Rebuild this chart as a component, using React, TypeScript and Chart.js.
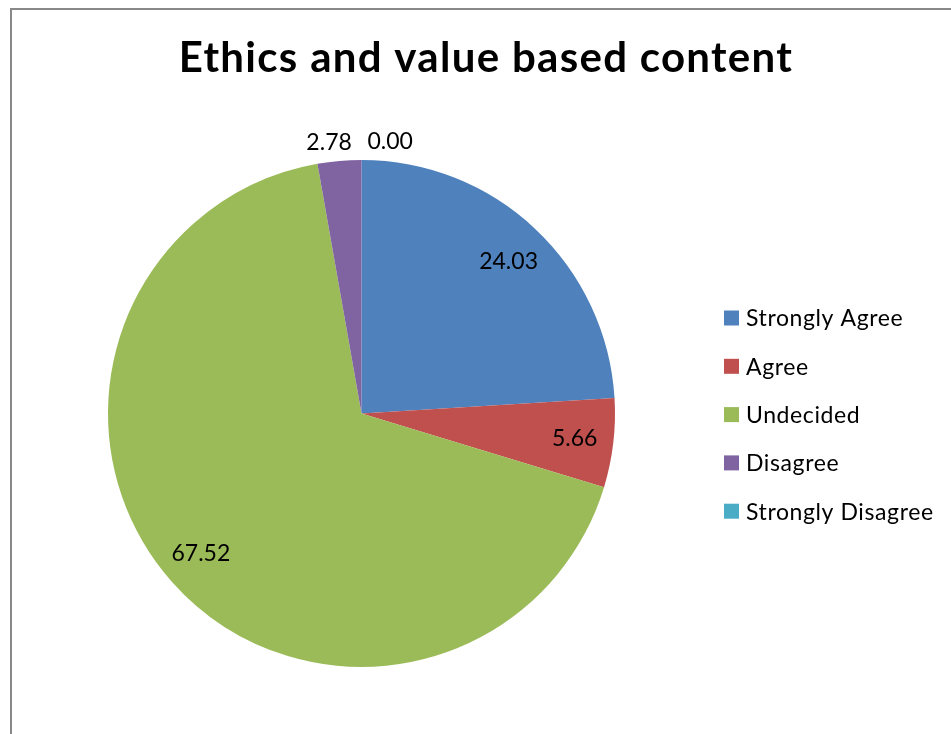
import React, { useEffect, useRef } from "react";
import { Chart, registerables } from "chart.js";

Chart.register(...registerables);

const TITLE = "Ethics and value based content";
const CATEGORIES = ["Strongly Agree", "Agree", "Undecided", "Disagree", "Strongly Disagree"];
const VALUES = [24.03, 5.66, 67.52, 2.78, 0.0];
const COLORS = ["#4F81BD", "#C0504D", "#9BBB59", "#8064A2", "#4BACC6"];

const FONT = "Lato, Carlito, Calibri, 'DejaVu Sans', sans-serif";

const titlePlugin = {
  id: "xlTitle",
  afterDraw(chart: any) {
    const ctx = chart.ctx;
    ctx.save();
    ctx.fillStyle = "#000";
    ctx.font = `bold 42px ${FONT}`;
    (ctx as any).letterSpacing = "1.3px";
    ctx.textAlign = "center";
    ctx.textBaseline = "alphabetic";
    ctx.fillText(TITLE, 486, 72);
    ctx.restore();
  },
};

const labelPlugin = {
  id: "xlLabels",
  afterDatasetsDraw(chart: any) {
    const ctx = chart.ctx;
    const meta = chart.getDatasetMeta(0);
    ctx.save();
    ctx.fillStyle = "#000";
    ctx.font = `23px ${FONT}`;
    ctx.textBaseline = "middle";
    meta.data.forEach((arc: any, i: number) => {
      const { x, y, startAngle, endAngle, outerRadius } = arc.getProps(
        ["x", "y", "startAngle", "endAngle", "outerRadius"],
        true
      );
      const mid = (startAngle + endAngle) / 2;
      const text = VALUES[i].toFixed(2);
      if (VALUES[i] >= 4) {
        const d = outerRadius * 0.83;
        ctx.textAlign = "center";
        ctx.fillText(text, x + Math.cos(mid) * d * 1.02, y + Math.sin(mid) * d + 1);
      } else {
        const d = outerRadius + 18;
        const px = x + Math.cos(mid) * d;
        const py = y + Math.sin(mid) * d;
        if (Math.cos(mid) < -0.01) {
          ctx.textAlign = "right";
          ctx.fillText(text, px + 14, py);
        } else {
          ctx.textAlign = "left";
          ctx.fillText(text, px + 6, py);
        }
      }
    });
    ctx.restore();
  },
};

const legendPlugin = {
  id: "xlLegend",
  afterDraw(chart: any) {
    const ctx = chart.ctx;
    ctx.save();
    ctx.font = `23px ${FONT}`;
    (ctx as any).letterSpacing = "0.6px";
    ctx.textBaseline = "middle";
    ctx.textAlign = "left";
    CATEGORIES.forEach((c, i) => {
      const cy = 318 + i * 48.3;
      ctx.fillStyle = COLORS[i];
      ctx.fillRect(724, cy - 7.5, 15, 15);
      ctx.fillStyle = "#000";
      ctx.fillText(c, 746, cy + 1);
    });
    ctx.restore();
  },
};

export default function App() {
  const ref = useRef<HTMLCanvasElement | null>(null);
  useEffect(() => {
    const cv = ref.current;
    if (!cv) return;
    const chart = new Chart(cv, {
      type: "pie",
      data: {
        labels: CATEGORIES,
        datasets: [
          {
            data: VALUES,
            backgroundColor: COLORS,
            borderWidth: 0,
          },
        ],
      },
      options: {
        responsive: false,
        animation: false,
        radius: 253.5,
        layout: { padding: { left: 0, right: 228, top: 93, bottom: 0 } },
        plugins: {
          legend: { display: false },
          tooltip: { enabled: false },
          title: { display: false },
        },
      } as any,
      plugins: [titlePlugin, labelPlugin, legendPlugin],
    });
    return () => chart.destroy();
  }, []);

  return (
    <div style={{ position: "fixed", left: 0, top: 0, width: 951, height: 734, overflow: "hidden", background: "#fff" }}>
      <div
        style={{
          position: "absolute",
          left: 10,
          top: 8,
          width: 1200,
          height: 1000,
          border: "2px solid #888",
          boxSizing: "border-box",
        }}
      />
      <canvas ref={ref} width={951} height={734} style={{ position: "absolute", left: 0, top: 0, width: 951, height: 734 }} />
    </div>
  );
}
